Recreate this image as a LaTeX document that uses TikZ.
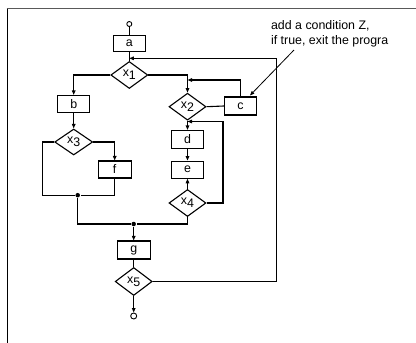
\documentclass[tikz,border=0pt]{standalone}
\usepackage{fontspec}
\setmainfont{Liberation Sans}
\usetikzlibrary{shapes.geometric,arrows.meta,calc}
\begin{document}
\begin{tikzpicture}[x=1pt,y=-1pt,
  line width=1.1pt,
  every node/.style={font=\fontsize{12.4}{15}\selectfont},
  box/.style={draw,rectangle,inner sep=0pt,minimum width=32pt,minimum height=17pt},
  dia/.style={draw,diamond,inner sep=0pt,minimum width=37pt,minimum height=27pt},
  term/.style={draw,circle,inner sep=0pt,minimum size=5pt,line width=0.9pt},
  dot/.style={fill,circle,inner sep=0pt,minimum size=4.5pt},
  arr/.style={-{Triangle[length=4.5pt,width=3.5pt]}},
  lbl/.style={inner sep=0pt}
]
\useasboundingbox (0,0) rectangle (416,343);
% frame
\draw[gray!70!black,line width=1.8pt] (6.5,8.5) -- (416,8.5);
\draw[line width=1.4pt] (7.5,8.5) -- (7.5,343);

% nodes
\node[term] (s) at (129.3,24) {};
\node[box,minimum height=16pt] (a) at (129.3,43.7) {a};
\node[dia] (x1) at (129.3,75) {x\raisebox{-3pt}{1}};
\node[box] (b) at (73.7,104) {b};
\node[dia,minimum width=38pt,minimum height=26pt] (x3) at (73.7,142) {x\raisebox{-3pt}{3}};
\node[box,minimum width=33pt] (f) at (114.7,169.5) {f};
\node[dia] (x2) at (187.5,106.7) {x\raisebox{-3pt}{2}};
\node[box,minimum height=18pt] (c) at (240.5,106) {c};
\node[box,minimum height=18pt] (d) at (187.5,139.5) {d};
\node[box] (e) at (187.5,169.7) {e};
\node[dia] (x4) at (187.5,203) {x\raisebox{-3pt}{4}};
\node[box,minimum width=33pt,minimum height=18pt] (g) at (133.7,250) {g};
\node[dia,minimum height=28pt] (x5) at (133.7,281.5) {x\raisebox{-3pt}{5}};
\node[term,minimum size=6pt] (t) at (133.7,316) {};

\node[dot] (j1) at (77.7,195.2) {};
\node[dot] (j2) at (133.7,224) {};

\coordinate (m1) at (129.3,58.3);
\coordinate (rt) at (276.3,58.3);
\coordinate (m2) at (187.5,80);
\coordinate (m3) at (187.5,121.5);
\coordinate (lp) at (223,121.5);
\coordinate (lx3) at (42.7,142);

% annotation
\node[lbl,anchor=north west,align=left] (note) at (270.5,19.5) {add a condition Z,\\if true, exit the progra};
\coordinate (ns) at (294,50);

% connectors
\draw (s) -- (a);
\draw (a) -- (x1);
\draw[arr] (x1.west) -| (b.north);
\draw[arr] (b) -- (x3);
\draw (x3.west) -- (lx3) |- (j1);
\draw[arr] (x3.east) -| (f.north);
\draw (f.south) |- (j1);
\draw (j1) |- (j2);
\draw (x4.south) |- (j2);
\draw[arr] (j2) -- (g);
\draw (g) -- (x5);
\draw[arr] (x5) -- (t);
\draw[arr] (x5.east) -| (rt) -- (m1);
\draw[arr] (x1.east) -| (x2.north);
\draw (x2.east) -- (c.west);
\draw[arr] (c.north) |- (m2);
\draw[arr] (x2.south) -- (d.north);
\draw[arr] (d) -- (e);
\draw[arr] (x4) -- (e);
\draw[arr] (x4.east) -| (lp) -- (m3);
\draw[arr,line width=0.8pt] (ns) -- ([xshift=9.5pt,yshift=1pt]c.north);
\end{tikzpicture}
\end{document}
